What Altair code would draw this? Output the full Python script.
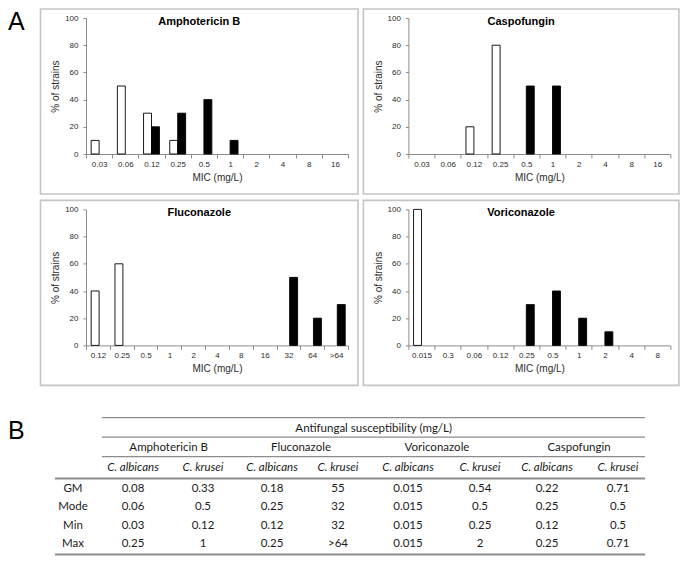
import altair as alt
import pandas as pd

# ---------------- data ----------------
species = ["C. albicans", "C. krusei"]

amph_cats = ["0.03", "0.06", "0.12", "0.25", "0.5", "1", "2", "4", "8", "16"]
amph_albicans = [10, 50, 30, 10, 0, 0, 0, 0, 0, 0]
amph_krusei = [0, 0, 20, 30, 40, 10, 0, 0, 0, 0]

casp_cats = ["0.03", "0.06", "0.12", "0.25", "0.5", "1", "2", "4", "8", "16"]
casp_albicans = [0, 0, 20, 80, 0, 0, 0, 0, 0, 0]
casp_krusei = [0, 0, 0, 0, 50, 50, 0, 0, 0, 0]

fluc_cats = ["0.12", "0.25", "0.5", "1", "2", "4", "8", "16", "32", "64", ">64"]
fluc_albicans = [40, 60, 0, 0, 0, 0, 0, 0, 0, 0, 0]
fluc_krusei = [0, 0, 0, 0, 0, 0, 0, 0, 50, 20, 30]

vori_cats = ["0.015", "0.3", "0.06", "0.12", "0.25", "0.5", "1", "2", "4", "8"]
vori_albicans = [100, 0, 0, 0, 0, 0, 0, 0, 0, 0]
vori_krusei = [0, 0, 0, 0, 30, 40, 20, 10, 0, 0]

# table
table_title = "Antifungal susceptibility (mg/L)"
drugs = ["Amphotericin B", "Fluconazole", "Voriconazole", "Caspofungin"]
stat_names = ["GM", "Mode", "Min", "Max"]
stat_values = [
    ["0.08", "0.33", "0.18", "55", "0.015", "0.54", "0.22", "0.71"],
    ["0.06", "0.5", "0.25", "32", "0.015", "0.5", "0.25", "0.5"],
    ["0.03", "0.12", "0.12", "32", "0.015", "0.25", "0.12", "0.5"],
    ["0.25", "1", "0.25", ">64", "0.015", "2", "0.25", "0.71"],
]

# ---------------- layout ----------------
PW, PH = 262, 136
FONT = "Liberation Sans"
TFONT = "Lato"
GRAY = "#8c8c8c"
BOX = "#c4c4c4"
TXT = "#2b2b2b"
LETTER_X = -78

# table layout (px from table origin)
col_x = [-13, 47, 117, 186, 252, 322, 394, 461, 532]
drug_x = [82.7, 215, 351, 493]
title_x = 287.7
row_text_y = [11.7, 30.3, 50.3, 71.7, 89.6, 107.9, 126.2]
line_y = [0, 19.5, 39, 61, 137]
TW = 584
TH = 137


def panel(title, cats, alb, kru, box_x, letter="A", letter_opacity=0.0):
    recs = []
    for c, a, k in zip(cats, alb, kru):
        if a:
            recs.append({"mic": c, "species": species[0], "pct": a})
        if k:
            recs.append({"mic": c, "species": species[1], "pct": k})
    df = pd.DataFrame(recs)
    bars = alt.Chart(df).mark_bar(stroke="black", strokeWidth=0.9).encode(
        x=alt.X(
            "mic:N",
            sort=cats,
            scale=alt.Scale(domain=cats, paddingInner=0, paddingOuter=0),
            axis=alt.Axis(
                title="MIC (mg/L)",
                labelAngle=0,
                tickBand="extent",
                tickSize=4,
                labelPadding=2,
                titlePadding=4,
            ),
        ),
        xOffset=alt.XOffset(
            "species:N",
            scale=alt.Scale(domain=species, paddingInner=0, paddingOuter=0.65),
        ),
        y=alt.Y(
            "pct:Q",
            scale=alt.Scale(domain=[0, 100], nice=False),
            axis=alt.Axis(
                title="% of strains",
                values=[0, 20, 40, 60, 80, 100],
                tickSize=3,
                labelPadding=5,
                titlePadding=4,
            ),
        ),
        fill=alt.Fill(
            "species:N",
            scale=alt.Scale(domain=species, range=["white", "black"]),
            legend=None,
        ),
    )
    one = pd.DataFrame({"k": [0]})
    box = alt.Chart(one).mark_rect(
        filled=False, stroke=BOX, strokeWidth=1.6
    ).encode(
        x=alt.value(box_x[0]), x2=alt.value(box_x[1]),
        y=alt.value(-9), y2=alt.value(PH + 40),
    )
    ttl = alt.Chart(one).mark_text(
        text=title, font=FONT, fontSize=11, fontWeight="bold",
        color="black", baseline="middle", align="center",
    ).encode(x=alt.value((box_x[0] + box_x[1]) / 2), y=alt.value(3.5))
    layers = [box, bars, ttl]
    if letter is not None:
        lt = alt.Chart(one).mark_text(
            text=letter, font=FONT, fontSize=25, color="black",
            align="left", baseline="middle", opacity=letter_opacity,
        ).encode(x=alt.value(LETTER_X), y=alt.value(4))
        layers.append(lt)
    return alt.layer(*layers).properties(width=PW, height=PH)


LBOX = (-45.5, PW + 10)
RBOX = (-45, PW + 8.5)

p1 = panel("Amphotericin B", amph_cats, amph_albicans, amph_krusei, LBOX, "A", 1.0)
p2 = panel("Caspofungin", casp_cats, casp_albicans, casp_krusei, RBOX, None)
p3 = panel("Fluconazole", fluc_cats, fluc_albicans, fluc_krusei, LBOX, "A", 0.0)
p4 = panel("Voriconazole", vori_cats, vori_albicans, vori_krusei, RBOX, None)

# ---------------- table ----------------
normal_cells = [{"x": title_x, "y": row_text_y[0], "t": table_title}]
for d, xx in zip(drugs, drug_x):
    normal_cells.append({"x": xx, "y": row_text_y[1], "t": d})
italic_cells = []
for i in range(8):
    italic_cells.append({"x": col_x[i + 1], "y": row_text_y[2], "t": species[i % 2]})
for r, (nm, vals) in enumerate(zip(stat_names, stat_values)):
    normal_cells.append({"x": col_x[0], "y": row_text_y[3 + r], "t": nm})
    for j, v in enumerate(vals):
        normal_cells.append({"x": col_x[j + 1], "y": row_text_y[3 + r], "t": v})

xs = alt.Scale(domain=[0, TW])
ys = alt.Scale(domain=[0, TH], reverse=True)

lines_df = pd.DataFrame({
    "y": line_y,
    "x1": [16, 16, 16, -31, -31],
    "x2": [559, 559, 559, 559, 559],
    "w": [1.2, 1.2, 1.2, 2.0, 2.0],
})


def text_layer(cells, style):
    return alt.Chart(pd.DataFrame(cells)).mark_text(
        font=TFONT, fontSize=11.5, fontStyle=style, color="#1a1a1a",
        baseline="middle", align="center",
    ).encode(
        x=alt.X("x:Q", scale=xs, axis=None),
        y=alt.Y("y:Q", scale=ys, axis=None),
        text="t:N",
    )


tab_lines = alt.Chart(lines_df).mark_rule(color=GRAY).encode(
    x=alt.X("x1:Q", scale=xs, axis=None),
    x2="x2:Q",
    y=alt.Y("y:Q", scale=ys, axis=None),
    strokeWidth=alt.StrokeWidth("w:Q", scale=None),
)
b_lbl = alt.Chart(pd.DataFrame({"k": [0]})).mark_text(
    text="B", font=FONT, fontSize=25, color="black", align="left", baseline="middle"
).encode(x=alt.value(LETTER_X), y=alt.value(13))

table = alt.layer(
    tab_lines, text_layer(normal_cells, "normal"), text_layer(italic_cells, "italic"), b_lbl
).properties(width=TW, height=TH)

top = alt.hconcat(p1, p2, spacing=3.4)
mid = alt.hconcat(p3, p4, spacing=3.4)
grid = alt.vconcat(top, mid, spacing=4.4)
chart = (
    alt.vconcat(grid, table, spacing=29.6)
    .properties(padding=0)
    .configure_view(stroke=None)
    .configure_axis(
        domainColor=GRAY,
        tickColor=GRAY,
        grid=False,
        labelFont=FONT,
        labelFontSize=8,
        labelColor=TXT,
        titleFont=FONT,
        titleFontSize=10,
        titleFontWeight="normal",
        titleColor=TXT,
    )
)

chart.save("out.html", embed_options={"renderer": "svg", "actions": False})
